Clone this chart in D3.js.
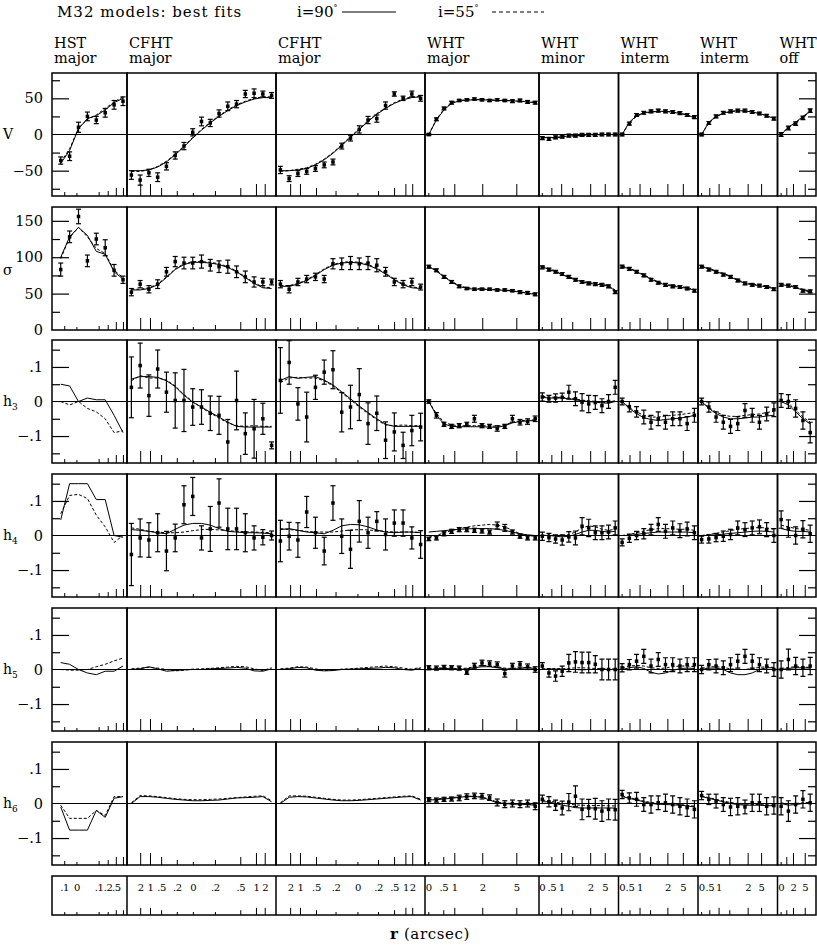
<!DOCTYPE html>
<html>
<head>
<meta charset="utf-8">
<script src="https://cdn.jsdelivr.net/npm/d3@7"></script>
<style>
  body { margin: 0; background: #fff; }
  svg { display: block; }
  text { font-family: "DejaVu Serif", serif; fill: #000; }
</style>
</head>
<body>
<div id="chart"></div>
<script>
// columns (slits), x is the bin index along each slit
const colTitles = [["HST", "major"], ["CFHT", "major"], ["CFHT", "major"], ["WHT", "major"],
                   ["WHT", "minor"], ["WHT", "interm"], ["WHT", "interm"], ["WHT", "off"]];
const colDomain = [[-0.98, 7.45], [-0.5, 16.5], [-0.5, 16.5], [-0.5, 14.5],
                   [-0.5, 11.5], [-0.5, 10.5], [-0.5, 10.5], [-0.5, 4.8]];
const colTickPos = [
  [0.45, 1.82, 4.32, 5.34, 6.25, 7.05],
  [1.06, 2.18, 3.45, 5.24, 7.07, 9.59, 12.48, 14.27, 15.27],
  [1.17, 2.29, 4.12, 6.35, 8.85, 11.2, 13.03, 14.32, 15.1],
  [0, 1.97, 3.42, 7.1, 11.58],
  [0, 1.44, 2.92, 4.59, 7.3, 9.5],
  [0, 1.09, 2.48, 3.94, 6.33, 8.47],
  [0, 1.13, 2.42, 3.9, 6.44, 8.3],
  [0, 0.78, 1.7, 3.32]
];
const colTickLab = [
  [".1", "0", ".1", ".2", ".5", ""],
  ["2", "1", ".5", ".2", "0", ".2", ".5", "1", "2"],
  ["2", "1", ".5", ".2", "0", ".2", ".5", "1", "2"],
  ["0", ".5", "1", "2", "5"],
  ["0", ".5", "1", "", "2", "5"],
  ["0", ".5", "1", "", "2", "5"],
  ["0", ".5", "1", "", "2", "5"],
  ["0", "", "2", "5"]
];

// V (km/s)
const V_obs = [
  [-36, -30, 10, 25, 20, 30, 41, 46],
  [-56, -63, -53, -59, -44, -29, -16, 3, 18, 16, 29, 39, 42, 56, 57, 56, 54],
  [-49, -61, -54, -51, -47, -42, -38, -16, -5, 7, 20, 22, 40, 56, 50, 56, 50],
  [0, 21, 36, 44, 47, 48, 49, 48, 47, 48, 47, 46, 47, 45, 44],
  [-5, -6, -4, -3, -1.5, -1.5, -0.5, -0.5, -0.5, 0, 0, 0],
  [0, 15, 27, 30, 32, 33, 32, 31, 29.5, 27, 24],
  [0, 16, 25, 30, 32, 33, 33, 31, 29, 26, 22],
  [0, 9, 15, 23, 33]
];
const V_err = [
  [5, 6, 7, 6, 5, 6, 6, 6],
  [6, 7, 5, 6, 5, 5, 5, 5, 6, 5, 5, 6, 5, 5, 6, 4, 4],
  [5, 4, 4, 4, 4, 4, 4, 4, 4, 5, 5, 5, 5, 3, 3, 4, 4],
  [1.5, 2, 2, 2, 1.5, 1.5, 1.5, 1.5, 1.5, 1.5, 1.5, 2, 2, 2, 2],
  [2, 2, 2, 2, 2, 2, 2, 2, 2, 2, 2, 2],
  [2, 2, 2, 2, 2, 2, 2, 2, 2, 2, 2],
  [2, 2, 2, 2, 2, 2, 2, 2, 2, 2, 2],
  [2.5, 2.5, 2.5, 2.5, 2.5]
];
const V_i90 = [
  [-40, -22, 8, 22, 26, 34, 44, 50],
  [-50, -50, -49, -45, -38, -28, -17, -5, 6, 16, 25, 33, 40, 45, 49, 51, 51],
  [-50, -50, -49, -47, -42, -35, -26, -15, -4, 7, 18, 28, 36, 43, 48, 51, 52],
  [0, 20, 34, 43, 46.5, 47.5, 48, 48, 47.5, 47, 47, 46.5, 46, 45, 44],
  [-4, -4.5, -4, -3, -2, -1.5, -1, -0.5, 0, 0, 0, 0],
  [0, 17, 26, 30, 31.5, 32, 32, 31, 29, 27, 23],
  [0, 17, 25, 29.5, 32, 33, 32.5, 31, 29, 26, 22],
  [0, 10, 17, 25, 32]
];
const V_i55 = [
  [-38, -20, 9, 21, 27, 36, 45, 52],
  [-51, -51, -49, -44, -37, -27, -16, -4, 7, 17, 26, 34, 41, 46, 50, 52, 52],
  [-51, -50, -48, -46, -41, -34, -25, -14, -3, 8, 19, 29, 37, 44, 49, 52, 53],
  [0, 21, 35, 44, 47, 48, 48.5, 48.5, 48, 47.5, 47, 46.5, 46, 45.5, 44.5],
  [-4.5, -5, -4.5, -3.5, -2.5, -2, -1.5, -1, -0.5, 0, 0, 0],
  [0, 16, 25, 29.5, 31, 32, 32, 31, 29.5, 27, 23.5],
  [0, 16, 24.5, 29, 31.5, 32.5, 32.5, 31, 29, 26, 22.5],
  [0, 10, 16, 24, 31]
];

// sigma (km/s)
const S_obs = [
  [83, 128, 156, 95, 125, 113, 82, 69],
  [52, 63, 56, 63, 80, 94, 92, 92, 94, 89, 87, 87, 80, 73, 66, 66, 66],
  [63, 56, 66, 70, 73, 70, 91, 91, 92, 91, 92, 89, 80, 66, 63, 66, 59],
  [87, 82, 73, 66, 60, 57, 56, 56, 56, 55, 55, 54, 52, 51, 49],
  [86, 83, 80, 77, 73, 69, 66, 64, 63, 62, 60, 52],
  [87, 84, 80, 75, 69, 65, 62, 60, 59, 57, 54],
  [87, 83, 80, 76, 73, 68, 64, 62, 61, 59, 56],
  [62, 61, 59, 54, 53]
];
const S_err = [
  [9, 8, 10, 8, 8, 11, 8, 5],
  [5, 5, 5, 6, 6, 7, 8, 8, 9, 8, 8, 9, 8, 8, 7, 5, 4],
  [5, 5, 5, 5, 5, 5, 7, 8, 9, 8, 9, 9, 6, 5, 5, 5, 4],
  [2, 2, 2, 2, 2, 1.5, 1.5, 1.5, 1.5, 1.5, 1.5, 1.5, 2, 2, 2],
  [2, 2, 2, 2, 2, 2, 2, 2, 2, 2, 2, 2],
  [2, 2, 2, 2, 2, 2, 2, 2, 2, 2, 2],
  [2, 2, 2, 2, 2, 2, 2, 2, 2, 2, 2],
  [2, 2, 2, 2, 2]
];
const S_i90 = [
  [100, 128, 141, 130, 108, 104, 80, 70],
  [55, 55, 57, 62, 72, 83, 90, 93, 93, 92, 90, 86, 80, 72, 64, 58, 57],
  [60, 60, 63, 68, 75, 83, 89, 92, 93, 92, 89, 84, 77, 69, 62, 58, 57],
  [87, 81, 73, 66, 60, 57, 56, 56, 55.5, 55, 54.5, 53.5, 52, 50.5, 49],
  [87, 83, 80, 76, 72, 69, 66, 64, 63, 62, 60, 54],
  [87, 84, 80, 75, 70, 65, 62, 60, 59, 57, 55],
  [87, 84, 80, 77, 73, 68, 64, 62, 61, 59, 57],
  [62, 61, 58, 55, 52]
];
const S_i55 = [
  [98, 127, 141, 128, 112, 105, 82, 72],
  [56, 56, 58, 63, 73, 84, 91, 94, 94, 93, 91, 87, 81, 73, 65, 59, 58],
  [61, 61, 64, 69, 76, 84, 90, 93, 94, 93, 90, 85, 78, 70, 63, 59, 58],
  [88, 82, 74, 67, 61, 58, 57, 56.5, 56, 55.5, 55, 54, 52.5, 51, 49.5],
  [88, 84, 81, 77, 73, 70, 67, 65, 64, 63, 61, 55],
  [88, 85, 81, 76, 71, 66, 63, 61, 60, 58, 56],
  [88, 85, 81, 78, 74, 69, 65, 63, 62, 60, 58],
  [63, 62, 59, 56, 53]
];

// h3
const H3_obs = [
  null,
  [.041, .104, .017, .094, .027, .003, .003, -.016, -.016, -.034, -.04, -.117, .003, -.093, -.079, -.05, -.127],
  [.061, .113, -.007, -.045, .041, .085, .092, -.031, -.016, .02, -.064, -.034, -.112, -.088, -.127, -.084, -.074],
  [0, -.04, -.066, -.072, -.07, -.066, -.05, -.07, -.072, -.078, -.072, -.05, -.06, -.058, -.05],
  [.013, .008, .01, .012, .027, .008, -.002, -.007, -.003, -.012, 0, .041],
  [0, -.015, -.03, -.045, -.06, -.05, -.06, -.05, -.05, -.064, -.04],
  [0, -.016, -.045, -.06, -.072, -.064, -.026, -.04, -.06, -.036, -.024],
  [.003, 0, -.02, -.055, -.09]
];
const H3_err = [
  null,
  [.088, .065, .06, .055, .058, .08, .09, .053, .05, .05, .055, .065, .085, .06, .085, .045, .01],
  [.095, .063, .047, .072, .035, .035, .055, .057, .063, .075, .06, .05, .053, .055, .038, .044, .04],
  [.005, .008, .006, .006, .006, .006, .01, .006, .006, .008, .006, .01, .008, .008, .008],
  [.012, .01, .012, .012, .02, .02, .025, .025, .02, .02, .02, .02],
  [.01, .015, .015, .02, .02, .02, .02, .02, .02, .02, .02],
  [.01, .015, .015, .02, .02, .02, .02, .02, .02, .02, .02],
  [.02, .02, .025, .025, .03]
];
const H3_i90 = [
  [.05, .045, 0, .01, .005, .005, -.04, -.09],
  [.065, .072, .072, .07, .06, .043, .018, -.002, -.016, -.031, -.045, -.06, -.072, -.074, -.074, -.074, -.074],
  [.061, .072, .067, .07, .072, .062, .048, .028, .008, -.013, -.032, -.05, -.066, -.072, -.072, -.072, -.072],
  [0, -.04, -.065, -.072, -.073, -.073, -.073, -.073, -.074, -.075, -.07, -.062, -.058, -.056, -.055],
  [.012, .01, .01, .01, .008, .005, .002, 0, -.002, -.004, -.005, 0],
  [0, -.02, -.035, -.047, -.052, -.055, -.052, -.05, -.048, -.045, -.04],
  [0, -.02, -.035, -.045, -.05, -.05, -.048, -.045, -.045, -.042, -.04],
  [0, -.01, -.03, -.05, -.065]
];
const H3_i55 = [
  [0, -.01, 0, -.02, -.03, -.05, -.09, -.085],
  [.06, .075, .068, .068, .062, .045, .02, 0, -.018, -.033, -.048, -.062, -.07, -.072, -.07, -.072, -.072],
  [.055, .068, .07, .068, .068, .06, .045, .025, .005, -.016, -.035, -.053, -.068, -.07, -.068, -.07, -.07],
  [0, -.035, -.06, -.068, -.07, -.07, -.07, -.07, -.071, -.072, -.068, -.06, -.056, -.054, -.053],
  [.015, .013, .012, .012, .01, .007, .004, .002, 0, -.002, -.003, .003],
  [0, -.018, -.03, -.04, -.045, -.045, -.042, -.04, -.038, -.035, -.032],
  [0, -.018, -.03, -.04, -.043, -.043, -.04, -.038, -.036, -.032, -.028],
  [0, -.005, -.025, -.045, -.06]
];

// h4
const H4_obs = [
  null,
  [-.055, -.007, -.013, .008, -.045, -.007, .089, .113, -.007, .019, .094, .019, .019, .008, -.007, -.005, 0],
  [-.016, -.002, -.013, .068, .008, -.045, .094, -.002, -.04, .041, .008, .041, .003, .036, .036, -.007, -.026],
  [-.01, -.007, .005, .012, .017, .017, .015, .013, .01, .029, .022, .01, -.002, -.007, -.007],
  [-.002, -.006, -.01, -.013, -.004, -.007, .027, .022, .008, .008, .01, .022],
  [-.02, -.008, 0, .005, .017, .032, .012, .022, .014, .019, .008],
  [-.012, -.01, -.006, -.002, .003, .022, .017, .022, .025, .017, 0],
  [.046, .02, 0, .018, .005]
];
const H4_err = [
  null,
  [.09, .055, .05, .055, .057, .04, .055, .055, .035, .065, .07, .06, .06, .055, .035, .022, .013],
  [.06, .04, .05, .045, .045, .04, .05, .05, .055, .06, .045, .028, .045, .038, .038, .032, .04],
  [.005, .006, .006, .006, .006, .006, .006, .006, .006, .01, .01, .006, .006, .006, .006],
  [.012, .012, .012, .015, .015, .02, .025, .025, .02, .02, .02, .02],
  [.01, .012, .012, .015, .015, .02, .02, .02, .02, .02, .02],
  [.01, .012, .012, .015, .015, .02, .02, .02, .02, .02, .02],
  [.025, .025, .025, .025, .025]
];
const H4_i90 = [
  [.045, .15, .15, .15, .104, .104, 0, -.005],
  [.017, .015, .012, .008, .005, .018, .03, .035, .035, .03, .02, .012, .01, .008, .008, .007, .005],
  [.017, .02, .015, .01, .008, .005, .015, .028, .032, .031, .025, .016, .01, .008, .01, .01, .008],
  [.01, .012, .014, .016, .018, .019, .02, .02, .02, .018, .015, .01, .005, .002, 0],
  [0, 0, -.002, -.004, -.002, .003, .01, .015, .015, .012, .01, .012],
  [0, 0, .003, .006, .008, .01, .01, .01, .01, .01, .008],
  [0, 0, .002, .004, .006, .008, .01, .012, .013, .012, .01],
  [.02, .015, .012, .012, .01]
];
const H4_i55 = [
  [.063, .116, .119, .107, .059, .025, -.02, 0],
  [.022, .018, .012, .01, .008, .008, .01, .014, .017, .018, .016, .014, .012, .011, .01, .009, .008],
  [.02, .017, .015, .012, .01, .01, .01, .013, .016, .017, .016, .014, .012, .01, .01, .01, .009],
  [-.005, 0, .008, .014, .02, .024, .028, .03, .032, .03, .025, .015, .005, 0, -.002],
  [0, .002, 0, 0, .003, .01, .022, .028, .025, .018, .015, .018],
  [0, .003, .008, .013, .017, .02, .02, .019, .018, .018, .015],
  [0, .003, .006, .01, .014, .018, .02, .022, .023, .022, .018],
  [.03, .025, .02, .018, .015]
];

// h5
const H5_obs = [
  null, null, null,
  [.005, .004, .006, .005, .004, -.008, .01, .019, .017, .014, -.012, .01, .015, .008, 0],
  [.01, -.01, -.019, -.005, .019, .022, .02, .02, .015, 0, 0, 0],
  [.005, .014, .024, .038, .01, .029, .014, .014, .01, .014, .014],
  [0, .014, .01, .005, .014, .024, .038, .024, .014, .01, 0],
  [0, .029, .01, .005, .01]
];
const H5_err = [
  null, null, null,
  [.006, .006, .006, .006, .006, .006, .008, .008, .008, .008, .01, .008, .008, .008, .008],
  [.01, .012, .015, .015, .025, .03, .03, .03, .025, .03, .03, .03],
  [.012, .015, .02, .02, .02, .02, .02, .02, .02, .02, .02],
  [.012, .015, .02, .02, .02, .02, .02, .02, .02, .02, .02],
  [.025, .03, .025, .025, .025]
];
const H5_i90 = [
  [.02, .015, 0, -.01, -.015, -.005, -.005, .01],
  [0, .002, .008, .002, -.005, -.003, -.001, 0, 0, .002, .003, .004, .006, .004, -.004, -.005, .002],
  [0, .002, .006, .005, -.002, -.004, -.003, 0, .001, .002, .003, .004, .006, .005, 0, -.002, .003],
  [0, .002, .003, .002, 0, .002, .005, .008, .008, .005, .002, 0, .003, .005, .003],
  [0, 0, .001, .001, 0, 0, -.001, 0, 0, .001, 0, 0],
  [0, .005, .008, .003, -.008, -.013, -.01, -.003, .003, .004, .003],
  [0, .004, .004, 0, -.01, -.015, -.015, -.01, 0, .005, .005],
  [0, .003, .005, .005, .004]
];
const H5_i55 = [
  [0, -.002, -.002, 0, .008, .015, .025, .033],
  [.002, .004, .006, .004, 0, -.004, -.002, .001, .002, .003, .005, .007, .009, .008, .002, -.003, .005],
  [.002, .004, .008, .007, .002, -.003, -.001, .001, .002, .004, .006, .008, .01, .008, .004, .001, .006],
  [.003, .004, .005, .004, .002, .004, .008, .012, .011, .008, .004, .003, .005, .006, .004],
  [.002, .003, .003, .002, .003, .005, .005, .004, .003, .002, .002, .001],
  [.005, .01, .012, .01, .005, .003, .004, .008, .01, .01, .008],
  [.004, .008, .008, .006, .002, 0, 0, .003, .006, .008, .006],
  [.003, .006, .008, .007, .006]
];

// h6
const H6_obs = [
  null, null, null,
  [.011, .01, .012, .013, .016, .02, .022, .021, .017, .003, -.002, 0, -.002, 0, -.008],
  [.012, .005, -.005, -.013, .004, .021, -.017, -.013, -.015, -.022, -.017, -.018],
  [.026, .016, .012, -.003, -.003, .002, .002, -.003, -.008, -.012, -.017],
  [.023, .012, .007, -.003, -.01, -.008, -.01, .002, .002, -.008, -.006],
  [-.008, -.022, -.003, .012, .002]
];
const H6_err = [
  null, null, null,
  [.006, .006, .006, .006, .008, .008, .008, .008, .008, .01, .01, .01, .01, .01, .01],
  [.012, .015, .015, .02, .025, .03, .03, .025, .03, .03, .03, .03],
  [.012, .015, .02, .02, .025, .02, .025, .025, .025, .025, .025],
  [.012, .015, .02, .02, .025, .025, .02, .025, .025, .025, .025],
  [.025, .03, .025, .025, .025]
];
const H6_i90 = [
  [-.01, -.077, -.077, -.077, -.02, -.04, .015, .02],
  [0, .02, .02, .018, .015, .012, .01, .008, .008, .009, .01, .013, .016, .017, .018, .02, .005],
  [0, .018, .02, .019, .016, .013, .01, .008, .008, .009, .011, .013, .015, .017, .019, .02, .01],
  [.01, .011, .013, .015, .018, .02, .02, .018, .01, .002, 0, -.002, -.002, -.003, -.005],
  [.005, .005, 0, -.005, -.008, -.012, -.013, -.013, -.013, -.013, -.013, -.013],
  [.02, .015, .01, .005, 0, -.002, -.003, -.004, -.005, -.007, -.01],
  [.02, .015, .01, .005, 0, -.003, -.005, -.005, -.005, -.006, -.007],
  [0, -.005, -.003, 0, .002]
];
const H6_i55 = [
  [-.005, -.043, -.043, -.043, -.02, -.035, .02, .02],
  [.002, .023, .022, .02, .017, .014, .012, .011, .011, .012, .013, .015, .017, .019, .021, .022, .008],
  [.002, .022, .022, .021, .018, .015, .012, .01, .01, .011, .013, .015, .017, .019, .021, .022, .012],
  [.012, .013, .015, .017, .019, .021, .021, .019, .012, .004, .001, 0, -.001, -.002, -.004],
  [.01, .008, .004, 0, -.002, -.004, -.005, -.006, -.006, -.006, -.007, -.007],
  [.022, .017, .012, .007, .003, .001, 0, -.001, -.003, -.005, -.008],
  [.022, .017, .012, .007, .003, 0, -.002, -.002, -.003, -.004, -.005],
  [.002, -.002, 0, .002, .003]
];

// ---- layout ----
const width = 817, height = 947;
const colEdges = [52, 127, 276, 425, 539, 618.5, 698, 777.5, 816];
const rowTop = [73, 207, 340, 474, 608, 742];
const rowH = 123;
const strip = { top: 876, bottom: 915 };

const hTicks = { domain: [-0.178, 0.178], major: [-0.1, 0.1], minor: [-0.15, -0.05, 0.05, 0.15], labels: [-0.1, 0, 0.1], zero: true };
const rows = [
  { name: "V", sub: "", obs: V_obs, err: V_err, m90: V_i90, m55: V_i55,
    domain: [-85, 85], major: [-50, 50], minor: [-75, -25, 25, 75], labels: [-50, 0, 50], zero: true },
  { name: "σ", sub: "", obs: S_obs, err: S_err, m90: S_i90, m55: S_i55,
    domain: [0, 169], major: [50, 100, 150], minor: [25, 75, 125], labels: [0, 50, 100, 150], zero: false },
  { name: "h", sub: "3", obs: H3_obs, err: H3_err, m90: H3_i90, m55: H3_i55, ...hTicks },
  { name: "h", sub: "4", obs: H4_obs, err: H4_err, m90: H4_i90, m55: H4_i55, ...hTicks },
  { name: "h", sub: "5", obs: H5_obs, err: H5_err, m90: H5_i90, m55: H5_i55, ...hTicks },
  { name: "h", sub: "6", obs: H6_obs, err: H6_err, m90: H6_i90, m55: H6_i55, ...hTicks }
];

const fmtY = d => d === 0 ? "0" : (d < 0 ? "\u2212" : "") + String(Math.abs(d)).replace(/^0\./, ".");
const tickLen = lab => {
  if (lab === "") return 8;
  const v = Math.abs(parseFloat(lab));
  return v === 0 ? 3 : v <= 0.1 ? 4 : v <= 0.2 ? 5 : v <= 0.5 ? 8 : 12;
};

const svg = d3.select("#chart").append("svg")
  .attr("width", width)
  .attr("height", height)
  .attr("viewBox", [0, 0, width, height]);

const defs = svg.append("defs");

const xScales = colDomain.map((dom, c) =>
  d3.scaleLinear().domain(dom).range([colEdges[c], colEdges[c + 1]]));

// title + legend
svg.append("text").attr("x", 57).attr("y", 17).attr("font-size", 15)
  .attr("letter-spacing", 1).text("M32 models: best fits");

const legend = [
  { label: "i=90", x: 297, x1: 342, x2: 396, dash: null },
  { label: "i=55", x: 438, x1: 492, x2: 544, dash: "4,3" }
];
legend.forEach(l => {
  const t = svg.append("text").attr("x", l.x).attr("y", 17).attr("font-size", 15);
  t.append("tspan").text(l.label);
  t.append("tspan").attr("dy", -7).attr("font-size", 8).text("°");
  svg.append("line")
    .attr("x1", l.x1).attr("x2", l.x2)
    .attr("y1", 12).attr("y2", 12)
    .attr("stroke", "#000").attr("stroke-width", 1)
    .attr("stroke-dasharray", l.dash);
});

// column headers
colTitles.forEach((t, c) => {
  const g = svg.append("text").attr("x", colEdges[c] + 2).attr("font-size", 14.5);
  g.append("tspan").attr("x", colEdges[c] + 2).attr("y", 48).text(t[0]);
  g.append("tspan").attr("x", colEdges[c] + 2).attr("y", 63).text(t[1]);
});

const line = (x, y) => d3.line().x((d, i) => x(i)).y(d => y(d));

rows.forEach((row, r) => {
  const top = rowTop[r];
  const y = d3.scaleLinear().domain(row.domain).range([top + rowH, top]);
  const g = svg.append("g").attr("class", "row");

  colEdges.slice(0, -1).forEach((x0, c) => {
    const x = xScales[c];
    const id = `clip-${r}-${c}`;
    defs.append("clipPath").attr("id", id)
      .append("rect").attr("x", x0).attr("y", top).attr("width", colEdges[c + 1] - x0).attr("height", rowH);
    const p = g.append("g").attr("clip-path", `url(#${id})`);

    if (row.zero) {
      p.append("line")
        .attr("x1", x0).attr("x2", colEdges[c + 1])
        .attr("y1", y(0)).attr("y2", y(0))
        .attr("stroke", "#000").attr("stroke-width", 1.2);
    }

    p.append("path").datum(row.m90[c])
      .attr("fill", "none").attr("stroke", "#000").attr("stroke-width", 1)
      .attr("d", line(x, y));
    p.append("path").datum(row.m55[c])
      .attr("fill", "none").attr("stroke", "#000").attr("stroke-width", 1)
      .attr("stroke-dasharray", "3,2")
      .attr("d", line(x, y));

    const obs = row.obs[c];
    if (obs) {
      const pts = obs.map((v, i) => ({ i, v, e: row.err[c][i] }));
      const eb = p.append("g").attr("stroke", "#000").attr("stroke-width", 1.2);
      pts.forEach(d => {
        const cx = x(d.i), y1 = y(d.v - d.e), y2 = y(d.v + d.e);
        eb.append("line").attr("x1", cx).attr("x2", cx).attr("y1", y1).attr("y2", y2);
        eb.append("line").attr("x1", cx - 2.5).attr("x2", cx + 2.5).attr("y1", y1).attr("y2", y1);
        eb.append("line").attr("x1", cx - 2.5).attr("x2", cx + 2.5).attr("y1", y2).attr("y2", y2);
      });
      p.append("g").selectAll("rect").data(pts).join("rect")
        .attr("x", d => x(d.i) - 1.75).attr("y", d => y(d.v) - 1.75)
        .attr("width", 3.5).attr("height", 3.5).attr("fill", "#000");
    }

    // x ticks along the panel bottom
    g.append("g").selectAll("line").data(colTickPos[c]).join("line")
      .attr("x1", d => x(d)).attr("x2", d => x(d))
      .attr("y1", top + rowH)
      .attr("y2", (d, i) => top + rowH - tickLen(colTickLab[c][i]))
      .attr("stroke", "#000").attr("stroke-width", 1);

    g.append("rect")
      .attr("x", x0).attr("y", top).attr("width", colEdges[c + 1] - x0).attr("height", rowH)
      .attr("fill", "none").attr("stroke", "#000").attr("stroke-width", 1.5);
  });

  // y ticks, left and right edges
  const sides = [{ x: colEdges[0], axis: d3.axisRight }, { x: colEdges[8], axis: d3.axisLeft }];
  sides.forEach(s => {
    [[row.major, 17], [row.minor, 8]].forEach(([vals, len]) => {
      g.append("g").attr("transform", `translate(${s.x},0)`)
        .call(s.axis(y).tickValues(vals).tickSize(len).tickFormat(""))
        .call(a => a.select(".domain").remove())
        .call(a => a.selectAll("line").attr("stroke", "#000").attr("stroke-width", 1.2));
    });
  });

  // y tick labels
  g.append("g").selectAll("text").data(row.labels).join("text")
    .attr("x", 43).attr("y", d => y(d)).attr("dy", "0.35em")
    .attr("text-anchor", "end").attr("font-size", 14.5)
    .text(fmtY);

  // row name
  const nm = g.append("text").attr("x", 3).attr("y", y(0) + (row.zero ? 0 : -(rowH / 2) + 2))
    .attr("dy", "0.35em").attr("font-size", 14);
  nm.append("tspan").text(row.name);
  if (row.sub) nm.append("tspan").attr("dy", 4).attr("font-size", 9).text(row.sub);
});

// bottom strip with the radius labels
const sg = svg.append("g");
sg.append("rect")
  .attr("x", colEdges[0]).attr("y", strip.top)
  .attr("width", colEdges[8] - colEdges[0]).attr("height", strip.bottom - strip.top)
  .attr("fill", "none").attr("stroke", "#000").attr("stroke-width", 1.5);
sg.selectAll("line.div").data(colEdges.slice(1, -1)).join("line")
  .attr("class", "div")
  .attr("x1", d => d).attr("x2", d => d)
  .attr("y1", strip.top).attr("y2", strip.bottom)
  .attr("stroke", "#000").attr("stroke-width", 1.5);
xScales.forEach((x, c) => {
  const ticks = colTickPos[c].map((p, i) => ({ p, lab: colTickLab[c][i] }));
  sg.append("g").selectAll("line").data(ticks).join("line")
    .attr("x1", d => x(d.p)).attr("x2", d => x(d.p))
    .attr("y1", strip.bottom).attr("y2", d => strip.bottom - Math.max(3, tickLen(d.lab) * 0.6))
    .attr("stroke", "#000").attr("stroke-width", 1);
  sg.append("g").selectAll("text").data(ticks.filter(d => d.lab !== "")).join("text")
    .attr("x", d => x(d.p)).attr("y", 891)
    .attr("text-anchor", "middle").attr("font-size", 10)
    .attr("letter-spacing", -0.4)
    .text(d => d.lab);
});

const xt = svg.append("text").attr("x", 390).attr("y", 939).attr("font-size", 15).attr("letter-spacing", 0.6);
xt.append("tspan").attr("font-weight", "bold").text("r");
xt.append("tspan").text(" (arcsec)");
</script>
</body>
</html>
